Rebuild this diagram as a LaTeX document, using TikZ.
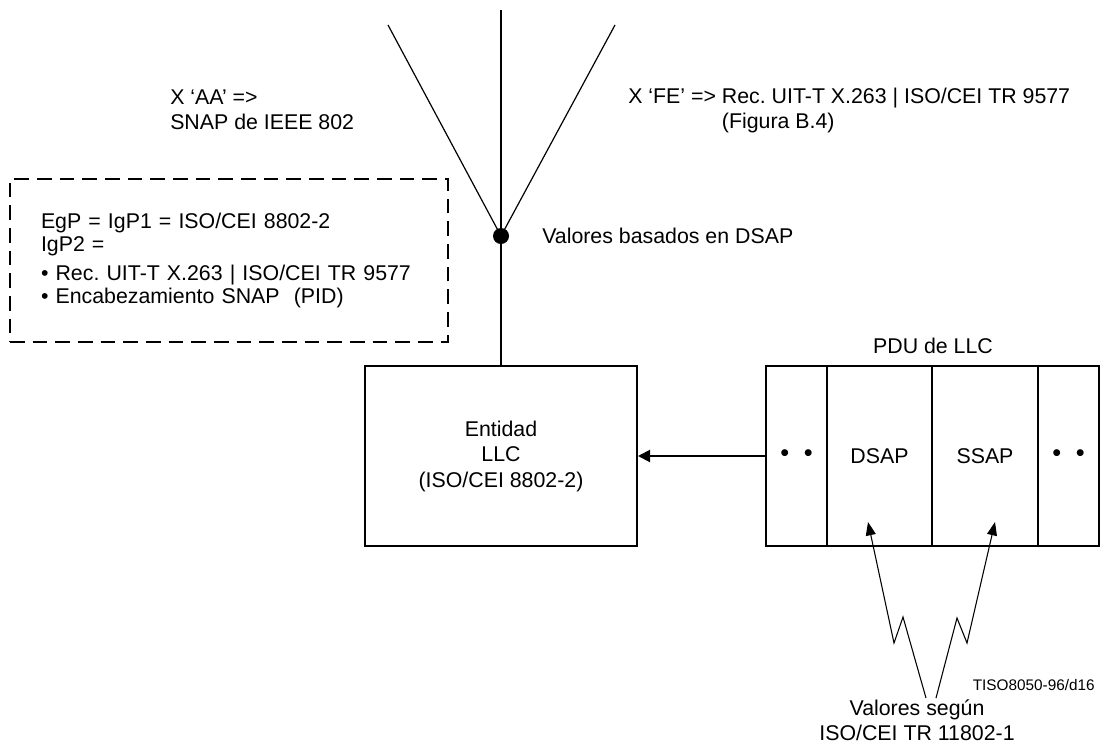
\documentclass[tikz,border=0pt]{standalone}
\usepackage{fontspec}
\setmainfont{Liberation Sans}
\usetikzlibrary{arrows.meta}
\frenchspacing

\newcommand{\puntos}{{\fontsize{19}{19}\selectfont •\hspace{11pt}•}}

\begin{document}
\begin{tikzpicture}[x=0.75pt, y=-0.75pt,
        txt/.style={font=\fontsize{16}{18.75}\selectfont, inner sep=0pt},
        caja/.style={draw, line width=1.5pt, inner sep=0pt, minimum height=135pt},
        flecha/.style={line width=1.5pt, -{Triangle[length=9pt, width=9pt]}},
        zig/.style={line width=0.8pt, -{Triangle[length=10pt, width=7.5pt]}}]
        \useasboundingbox (0,0) rectangle (1106,751);

        % Ramas superiores
        \coordinate (top) at (501,10);
        \coordinate (aa) at (388,25);
        \coordinate (fe) at (615,25);
        \node[circle, fill, inner sep=0pt, minimum size=12pt] (hub) at (501,236) {};
        \draw[line width=1.5pt] (top) -- (hub.center);
        \draw[line width=0.9pt] (aa) -- (hub.center);
        \draw[line width=0.9pt] (fe) -- (hub.center);

        % Rótulos de las ramas
        \node[txt, anchor=west, align=left] (laa) at (170,109.5) {X ‘AA’ =>\\SNAP de IEEE 802};
        \node[txt, anchor=west, align=left] (lfe) at (628,110.5) {X ‘FE’ => Rec. UIT-T X.263 | ISO/CEI TR 9577\\\hphantom{X ‘FE’ => }(Figura B.4)};
        \node[txt, anchor=west] (ldsap) at (542,236) {Valores basados en DSAP};

        % Recuadro de trazos
        \node[draw, line width=1.5pt, dash pattern=on 11pt off 6pt,
              minimum width=328.5pt, minimum height=122.25pt, text width=282pt,
              inner xsep=23.25pt, inner ysep=0pt, align=left,
              font=\fontsize{16}{17.25}\selectfont] (nota) at (229,260.5)
              {EgP = IgP1 = ISO/CEI 8802-2\\IgP2 =\\[4pt]• Rec. UIT-T X.263 | ISO/CEI TR 9577\\• Encabezamiento SNAP~~(PID)};

        % Entidad LLC
        \node[caja, txt, minimum width=204pt, align=center,
              font=\fontsize{16}{19.1}\selectfont] (llc) at (501,456) {Entidad\\LLC\\(ISO/CEI 8802-2)};
        \draw[line width=1.5pt] (hub) -- (llc);

        % PDU de LLC
        \foreach \n/\x/\w/\t in {c1/796.5/45.75/\puntos, c2/879.5/78.75/DSAP,
                                 c3/985/79.5/SSAP, c4/1068.5/45.75/\puntos} {
            \node[caja, txt, minimum width=\w pt] (\n) at (\x,456) {\t};
        }
        \node[txt] (lpdu) at (933,346) {PDU de LLC};
        \draw[flecha] (c1) -- (llc);

        % Flechas en zigzag
        \coordinate (dbase) at (926,698);
        \coordinate (dtip) at (868,522);
        \coordinate (sbase) at (936,698);
        \coordinate (stip) at (995,522);
        \draw[zig] (dbase) -- (903,617) -- (894,643) -- (dtip);
        \draw[zig] (sbase) -- (957,618) -- (967,643) -- (stip);
        \node[txt, align=center, font=\fontsize{16}{18.75}\selectfont] (lval) at (917,720.5) {Valores según\\ISO/CEI TR 11802-1};

        \node[txt, anchor=east, font=\fontsize{11.5}{13}\selectfont] (ref) at (1095,685) {TISO8050-96/d16};
\end{tikzpicture}
\end{document}
